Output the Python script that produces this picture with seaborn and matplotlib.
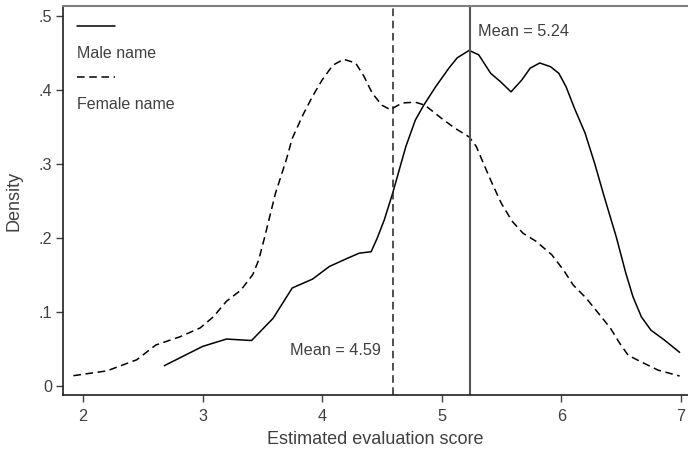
import numpy as np
import pandas as pd
import seaborn as sns
import matplotlib.pyplot as plt
from matplotlib.lines import Line2D

# Kernel density curves
male_x = [2.68, 3.0, 3.2, 3.41, 3.59, 3.75, 3.92, 4.06, 4.21, 4.31, 4.41, 4.46, 4.52, 4.59,
          4.70, 4.78, 4.85, 4.95, 5.06, 5.13, 5.23, 5.31, 5.41, 5.49, 5.58, 5.67, 5.74,
          5.82, 5.91, 5.98, 6.04, 6.11, 6.20, 6.28, 6.36, 6.46, 6.54, 6.60, 6.67, 6.75,
          6.86, 6.99]
male_y = [0.027, 0.053, 0.063, 0.061, 0.091, 0.132, 0.144, 0.161, 0.172, 0.179, 0.181, 0.199,
          0.224, 0.260, 0.323, 0.359, 0.379, 0.404, 0.429, 0.443, 0.453, 0.447, 0.422,
          0.411, 0.397, 0.413, 0.429, 0.436, 0.431, 0.422, 0.404, 0.375, 0.341, 0.300,
          0.255, 0.201, 0.152, 0.120, 0.093, 0.075, 0.062, 0.045]

female_x = [1.92, 2.2, 2.45, 2.61, 2.81, 2.98, 3.09, 3.2, 3.32, 3.42, 3.47, 3.52, 3.61, 3.70,
            3.75, 3.84, 3.92, 4.00, 4.09, 4.18, 4.28, 4.35, 4.42, 4.50, 4.57, 4.67, 4.78,
            4.86, 5.00, 5.11, 5.23, 5.29, 5.35, 5.42, 5.50, 5.59, 5.68, 5.79, 5.92, 6.02,
            6.10, 6.21, 6.31, 6.41, 6.49, 6.56, 6.67, 6.81, 6.99]
female_y = [0.0135, 0.020, 0.035, 0.055, 0.066, 0.078, 0.093, 0.114, 0.129, 0.150, 0.170,
            0.201, 0.260, 0.305, 0.334, 0.366, 0.391, 0.413, 0.433, 0.441, 0.436, 0.418,
            0.395, 0.379, 0.373, 0.382, 0.383, 0.379, 0.361, 0.348, 0.336, 0.323, 0.300,
            0.274, 0.246, 0.222, 0.206, 0.195, 0.177, 0.156, 0.136, 0.118, 0.098, 0.078,
            0.057, 0.041, 0.032, 0.021, 0.013]

mean_male = 5.24
mean_female = 4.59

x_ticks = [2, 3, 4, 5, 6, 7]
y_ticks = [0, 0.1, 0.2, 0.3, 0.4, 0.5]
y_ticklabels = ["0", ".1", ".2", ".3", ".4", ".5"]

df = pd.concat([
    pd.DataFrame({"score": male_x, "density": male_y, "group": "Male name"}),
    pd.DataFrame({"score": female_x, "density": female_y, "group": "Female name"}),
])

sns.set_style("white")
plt.rcParams["font.family"] = ["Liberation Sans", "DejaVu Sans"]
txt = "#404040"

fig = plt.figure(figsize=(6.88, 4.51), dpi=100)
ax = fig.add_axes([63 / 688, 56 / 451, 625 / 688, 389 / 451])

sns.lineplot(data=df, x="score", y="density", style="group", ax=ax,
             dashes={"Male name": "", "Female name": (5, 3)},
             color="black", linewidth=1.1, legend=False, sort=False, estimator=None)

ax.axvline(mean_female, color="#202020", linestyle=(0, (5, 3)), linewidth=1.1)
ax.axvline(mean_male, color="#555555", linewidth=1.5)
ax.text(mean_male + 0.065, 0.478, f"Mean = {mean_male:.2f}", color=txt, fontsize=11.7,
        ha="left", va="center")
ax.text(mean_female - 0.1, 0.048, f"Mean = {mean_female:.2f}", color=txt, fontsize=11.7,
        ha="right", va="center")

ax.set_xlim(1.833, 7.06)
ax.set_ylim(-0.0126, 0.513)
ax.set_xticks(x_ticks)
ax.set_yticks(y_ticks)
ax.set_yticklabels(y_ticklabels)
ax.set_xlabel("Estimated evaluation score", color=txt, fontsize=13)
ax.set_ylabel("Density", color=txt, fontsize=13)
ax.xaxis.set_label_coords(0.5, -0.0925)
ax.yaxis.set_label_coords(-0.064, 0.5)
ax.tick_params(axis="both", direction="out", length=5, width=1, color="#404040",
               labelcolor=txt, labelsize=11.7, bottom=True, left=True)
ax.tick_params(axis="x", pad=5)
ax.tick_params(axis="y", pad=3)

for side in ["left", "bottom"]:
    ax.spines[side].set_color("#202020")
    ax.spines[side].set_linewidth(1.2)
ax.spines["top"].set_color("#808080")
ax.spines["top"].set_linewidth(1.5)
ax.spines["right"].set_visible(False)

# Stata-style legend: key line above its label
for ly, ty, label, ls in [(0.949, 0.879, "Male name", "-"),
                          (0.817, 0.748, "Female name", (0, (5, 3)))]:
    ax.add_line(Line2D([0.022, 0.083], [ly, ly], transform=ax.transAxes,
                       color="black", linewidth=1.1, linestyle=ls))
    ax.text(0.022, ty, label, transform=ax.transAxes, color=txt, fontsize=11.5,
            ha="left", va="center")

fig.savefig("out.png", dpi=100)
